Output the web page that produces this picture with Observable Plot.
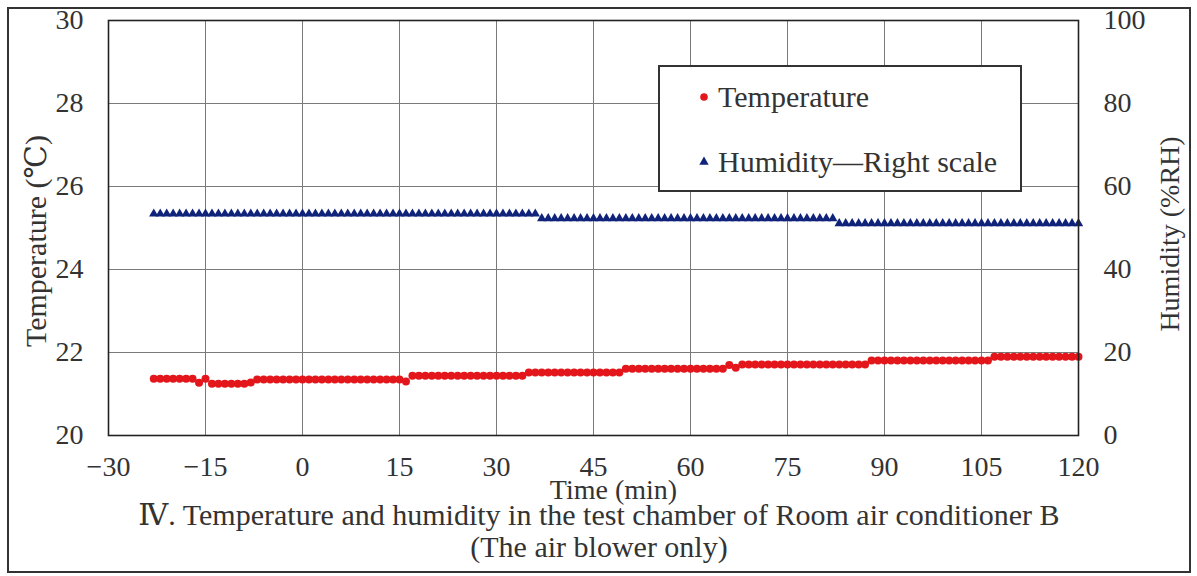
<!DOCTYPE html>
<html><head><meta charset="utf-8">
<script src="https://cdn.jsdelivr.net/npm/d3@7"></script>
<script src="https://cdn.jsdelivr.net/npm/@observablehq/plot@0.6"></script>
<style>
body{margin:0;background:#fff;}
#frame{position:absolute;left:7px;top:7px;width:1180px;height:562px;border:2px solid #333;font-family:"Liberation Serif","DejaVu Serif",serif;color:#333;background:#fff;}
#chart{position:absolute;left:0;top:0;}
.cap{position:absolute;left:0;width:100%;text-align:center;font-size:30px;line-height:30px;white-space:nowrap;}
#legend{position:absolute;left:649px;top:56px;width:360px;height:123px;border:2px solid #333;background:#fff;}
#legend .lt{position:absolute;left:58px;font-size:30px;line-height:30px;white-space:nowrap;}
#legend svg{position:absolute;left:0;top:0;}
</style></head><body>
<div id="frame"><div id="chart"></div>
<div id="legend"></div>
<div class="cap" id="cap1" style="top:491px"></div>
<div class="cap" id="cap2" style="top:523px"></div>
</div>
<script>
// Time axis (minutes), one reading per minute from -23 to 120
const minutes = d3.range(-23, 121);
const xTicks = [-30, -15, 0, 15, 30, 45, 60, 75, 90, 105, 120];
const yTicksLeft = [20, 22, 24, 26, 28, 30];
const humTicks = [0, 20, 40, 60, 80, 100];

// Temperature (°C)
const temperature = [
  21.37,21.37,21.37,21.37,21.37,21.37,21.37,
  21.27,21.37,
  21.25,21.25,21.25,21.25,21.25,21.25,
  21.28,
  21.35,21.35,21.35,21.35,21.35,21.35,21.35,21.35,21.35,21.35,
  21.35,21.35,21.35,21.35,21.35,21.35,21.35,21.35,21.35,21.35,
  21.35,21.35,21.35,
  21.30,
  21.44,21.44,21.44,21.44,21.44,21.44,21.44,21.44,21.44,
  21.44,21.44,21.44,21.44,21.44,21.44,21.44,21.44,21.44,
  21.52,21.52,21.52,21.52,21.52,21.52,21.52,21.52,21.52,21.52,21.52,21.52,21.52,21.52,21.52,
  21.61,21.61,21.61,21.61,21.61,21.61,21.61,21.61,
  21.61,21.61,21.61,21.61,21.61,21.61,21.61,21.61,
  21.70,21.63,
  21.71,21.71,21.71,21.71,21.71,21.71,21.71,21.71,21.71,21.71,
  21.71,21.71,21.71,21.71,21.71,21.71,21.71,21.71,21.71,21.71,
  21.81,21.81,21.81,21.81,21.81,21.81,21.81,21.81,21.81,21.81,
  21.81,21.81,21.81,21.81,21.81,21.81,21.81,21.81,21.81,
  21.90,21.90,21.90,21.90,21.90,21.90,21.90,
  21.90,21.90,21.90,21.90,21.90,21.90,21.90
];

// Humidity (%RH)
const humidity = [
  53.4,53.4,53.4,53.4,53.4,53.4,53.4,53.4,53.4,53.4,
  53.4,53.4,53.4,53.4,53.4,53.4,53.4,53.4,53.4,53.4,
  53.4,53.4,53.4,53.4,53.4,53.4,53.4,53.4,53.4,53.4,
  53.4,53.4,53.4,53.4,53.4,53.4,53.4,53.4,53.4,53.4,
  53.4,53.4,53.4,53.4,53.4,53.4,53.4,53.4,53.4,53.4,
  53.4,53.4,53.4,53.4,53.4,53.4,53.4,53.4,53.4,53.4,
  52.3,52.3,52.3,52.3,52.3,52.3,52.3,52.3,52.3,52.3,
  52.3,52.3,52.3,52.3,52.3,52.3,52.3,52.3,52.3,52.3,
  52.3,52.3,52.3,52.3,52.3,52.3,52.3,52.3,52.3,52.3,
  52.3,52.3,52.3,52.3,52.3,52.3,52.3,52.3,52.3,52.3,
  52.3,52.3,52.3,52.3,52.3,52.3,
  51.1,51.1,51.1,51.1,51.1,51.1,51.1,51.1,51.1,51.1,
  51.1,51.1,51.1,51.1,51.1,51.1,51.1,51.1,51.1,51.1,
  51.1,51.1,51.1,51.1,51.1,51.1,51.1,51.1,51.1,51.1,
  51.1,51.1,51.1,51.1,51.1,51.1,51.1,51.1
];

const seriesNames = ["Temperature", "Humidity\u2014Right scale"];
const colors = ["#e3161b", "#10237a"];
const caption1 = "\u2163. Temperature and humidity in the test chamber of Room air conditioner B";
const caption2 = "(The air blower only)";

if (temperature.length !== minutes.length || humidity.length !== minutes.length)
  throw new Error("length mismatch " + temperature.length + " " + humidity.length + " " + minutes.length);

const tempData = minutes.map((t, i) => ({t, v: temperature[i]}));
const humData = minutes.map((t, i) => ({t, v: humidity[i]}));
// humidity 0..100 mapped onto the temperature scale 20..30
const h2y = h => 20 + h / 10;

const chart = Plot.plot({
  width: 1180, height: 500,
  marginLeft: 99, marginRight: 111, marginTop: 11, marginBottom: 74,
  style: {fontFamily: '"Liberation Serif","DejaVu Serif",serif', fontSize: "28px", color: "#333", background: "transparent", overflow: "visible"},
  x: {domain: [-30, 120]},
  y: {domain: [20, 30]},
  marks: [
    Plot.gridX(xTicks, {stroke: "#7a7a7a", strokeOpacity: 1, strokeWidth: 1}),
    Plot.gridY(yTicksLeft, {stroke: "#7a7a7a", strokeOpacity: 1, strokeWidth: 1}),
    Plot.axisX(xTicks, {tickSize: 0, tickPadding: 21, label: null}),
    Plot.axisY(yTicksLeft, {anchor: "left", tickSize: 0, tickPadding: 25, label: null}),
    Plot.axisY(humTicks.map(h2y), {anchor: "right", tickSize: 0, tickPadding: 25, label: null, tickFormat: d => Math.round((d - 20) * 10)}),
    Plot.dot(humData, {x: "t", y: d => h2y(d.v), r: 3.5, symbol: "triangle", fill: colors[1], stroke: null}),
    Plot.dot(tempData, {x: "t", y: "v", r: 4, fill: colors[0], stroke: null}),
    Plot.frame({stroke: "#222", strokeWidth: 1.6}),
    Plot.text(["Time (min)"], {text: d => d, frameAnchor: "bottom", textAnchor: "middle", dx: 20, dy: 63}),
    Plot.text(["Temperature (\u2103)"], {text: d => d, frameAnchor: "left", textAnchor: "middle", rotate: -90, dx: -72, dy: 13, fontSize: 30}),
    Plot.text(["Humidity (%RH)"], {text: d => d, frameAnchor: "right", textAnchor: "middle", rotate: -90, dx: 92, dy: 6})
  ]
});
document.getElementById("chart").appendChild(chart);

// legend
const lg = document.getElementById("legend");
const ns = "http://www.w3.org/2000/svg";
const s = document.createElementNS(ns, "svg");
s.setAttribute("width", 360); s.setAttribute("height", 123);
const c = document.createElementNS(ns, "circle");
c.setAttribute("cx", 44); c.setAttribute("cy", 30); c.setAttribute("r", 3.8); c.setAttribute("fill", colors[0]);
s.appendChild(c);
const tri = document.createElementNS(ns, "path");
tri.setAttribute("transform", "translate(44,95)");
tri.setAttribute("d", d3.symbol(d3.symbolTriangle, 12 * Math.PI)());
tri.setAttribute("fill", colors[1]);
s.appendChild(tri);
lg.appendChild(s);
seriesNames.forEach((n, i) => {
  const d = document.createElement("div");
  d.className = "lt";
  d.style.top = (i === 0 ? 15 : 80) + "px";
  d.textContent = n;
  lg.appendChild(d);
});
document.getElementById("cap1").textContent = caption1;
document.getElementById("cap2").textContent = caption2;
</script>
</body></html>
